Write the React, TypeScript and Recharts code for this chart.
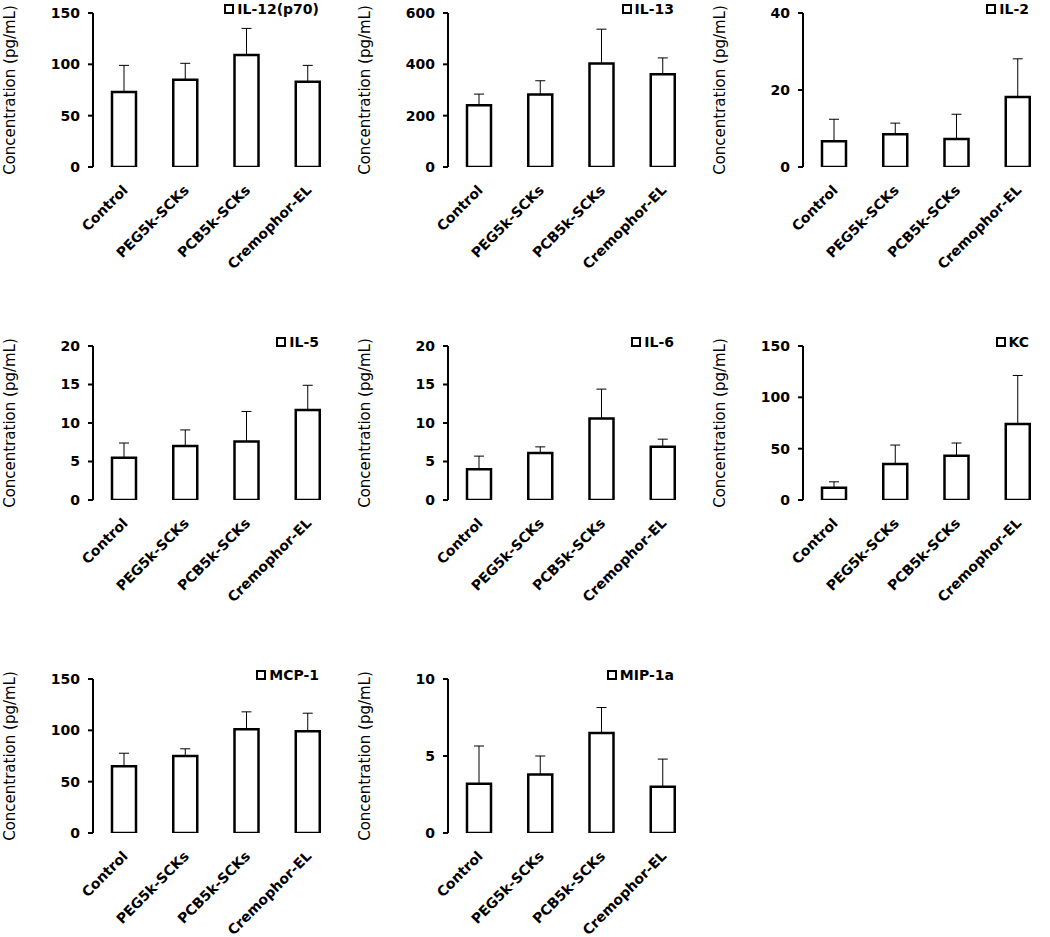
import React from "react";
import { BarChart, Bar, XAxis, YAxis, ErrorBar, Legend } from "recharts";

const FONT = '"DejaVu Sans", Arial, sans-serif';

const groups = ["Control", "PEG5k-SCKs", "PCB5k-SCKs", "Cremophor-EL"];

// mean values and upper SD per cytokine (pg/mL)
const il12 = [73, 85, 109, 83];
const il12Err = [26, 16, 26, 16];
const il13 = [241, 282, 403, 361];
const il13Err = [43, 54, 134, 64];
const il2 = [6.7, 8.5, 7.3, 18.2];
const il2Err = [5.7, 2.9, 6.4, 9.9];
const il5 = [5.5, 7.0, 7.6, 11.7];
const il5Err = [1.9, 2.1, 3.9, 3.2];
const il6 = [4.0, 6.1, 10.6, 6.9];
const il6Err = [1.7, 0.8, 3.8, 1.0];
const kc = [12, 35, 43, 74];
const kcErr = [5.7, 18.5, 12.5, 47.3];
const mcp1 = [65, 75, 101, 99];
const mcp1Err = [12.7, 7, 17, 17.7];
const mip1a = [3.2, 3.8, 6.5, 3.0];
const mip1aErr = [2.45, 1.2, 1.65, 1.8];

const panels = [
  { title: "IL-12(p70)", values: il12, errs: il12Err, ticks: [0, 50, 100, 150] },
  { title: "IL-13", values: il13, errs: il13Err, ticks: [0, 200, 400, 600] },
  { title: "IL-2", values: il2, errs: il2Err, ticks: [0, 20, 40] },
  { title: "IL-5", values: il5, errs: il5Err, ticks: [0, 5, 10, 15, 20] },
  { title: "IL-6", values: il6, errs: il6Err, ticks: [0, 5, 10, 15, 20] },
  { title: "KC", values: kc, errs: kcErr, ticks: [0, 50, 100, 150] },
  { title: "MCP-1", values: mcp1, errs: mcp1Err, ticks: [0, 50, 100, 150] },
  { title: "MIP-1a", values: mip1a, errs: mip1aErr, ticks: [0, 5, 10] },
];

const XTick = (props: any) => {
  const { x, y, payload } = props;
  return (
    <g transform={`translate(${x + 5},${y + 24})`}>
      <text x={0} y={0} textAnchor="end" transform="rotate(-45)" fill="#000"
        fontFamily={FONT} fontWeight="bold" fontSize={14}>
        {payload.value}
      </text>
    </g>
  );
};

const YTitle = (props: any) => {
  const vb = props.viewBox || {};
  const cx = (vb.x || 0) + 10;
  const cy = (vb.y || 0) + (vb.height || 0) / 2;
  return (
    <text x={cx} y={cy} transform={`rotate(-90, ${cx}, ${cy})`} textAnchor="middle"
      dominantBaseline="central" fill="#000" fontFamily={FONT} fontSize={15}>
      Concentration (pg/mL)
    </text>
  );
};

const LegendBox = (props: any) => {
  const item = (props.payload || [])[0];
  return (
    <div style={{ display: "flex", alignItems: "center", fontFamily: FONT, fontWeight: "bold",
      fontSize: 14, lineHeight: "18px", color: "#000", whiteSpace: "nowrap" }}>
      <span style={{ display: "inline-block", width: 6, height: 6, border: "2px solid #000", marginRight: 3 }} />
      {item ? item.value : ""}
    </div>
  );
};

function Panel({ title, values, errs, ticks }: any) {
  const rows = groups.map((g, i) => ({ name: g, value: values[i], err: [0, errs[i]] }));
  const max = ticks[ticks.length - 1];
  return (
    <BarChart width={355} height={320} data={rows} margin={{ top: 13, right: 17, bottom: 53, left: 0 }}>
      <XAxis xAxisId="grid" type="number" domain={[0, groups.length]} ticks={[0, 1, 2, 3, 4]}
        allowDataOverflow height={0} tick={false} tickSize={5}
        axisLine={{ stroke: "#a6a6a6" }} tickLine={{ stroke: "#a6a6a6" }} />
      <XAxis xAxisId="cat" dataKey="name" height={100} interval={0} axisLine={false}
        tickLine={false} tickSize={0} tickMargin={0} tick={<XTick />} />
      <YAxis width={93} domain={[0, max]} ticks={ticks} interval={0} allowDataOverflow
        axisLine={{ stroke: "#000", strokeWidth: 2 }} tickLine={{ stroke: "#000", strokeWidth: 2 }}
        tickSize={5} tickMargin={8}
        tick={{ fill: "#000", fontSize: 14, fontWeight: "bold", fontFamily: FONT }}
        label={{ content: <YTitle /> }} />
      <Legend layout="vertical" align="center" verticalAlign="middle"
        wrapperStyle={{ top: 0, right: 36 }} content={<LegendBox />} />
      <Bar xAxisId="cat" dataKey="value" name={title} fill="#fff" stroke="#000" strokeWidth={2.5}
        barSize={24} isAnimationActive={false}>
        <ErrorBar dataKey="err" direction="y" width={5} stroke="#000" strokeWidth={1} />
      </Bar>
    </BarChart>
  );
}

export default function App() {
  return (
    <div style={{ position: "absolute", left: 0, top: 0, width: 1050, height: 937, overflow: "hidden", background: "#fff" }}>
      {panels.map((p, i) => (
        <div key={p.title} style={{ position: "absolute", left: (i % 3) * 355, top: Math.floor(i / 3) * 333 }}>
          <Panel {...p} />
        </div>
      ))}
    </div>
  );
}
